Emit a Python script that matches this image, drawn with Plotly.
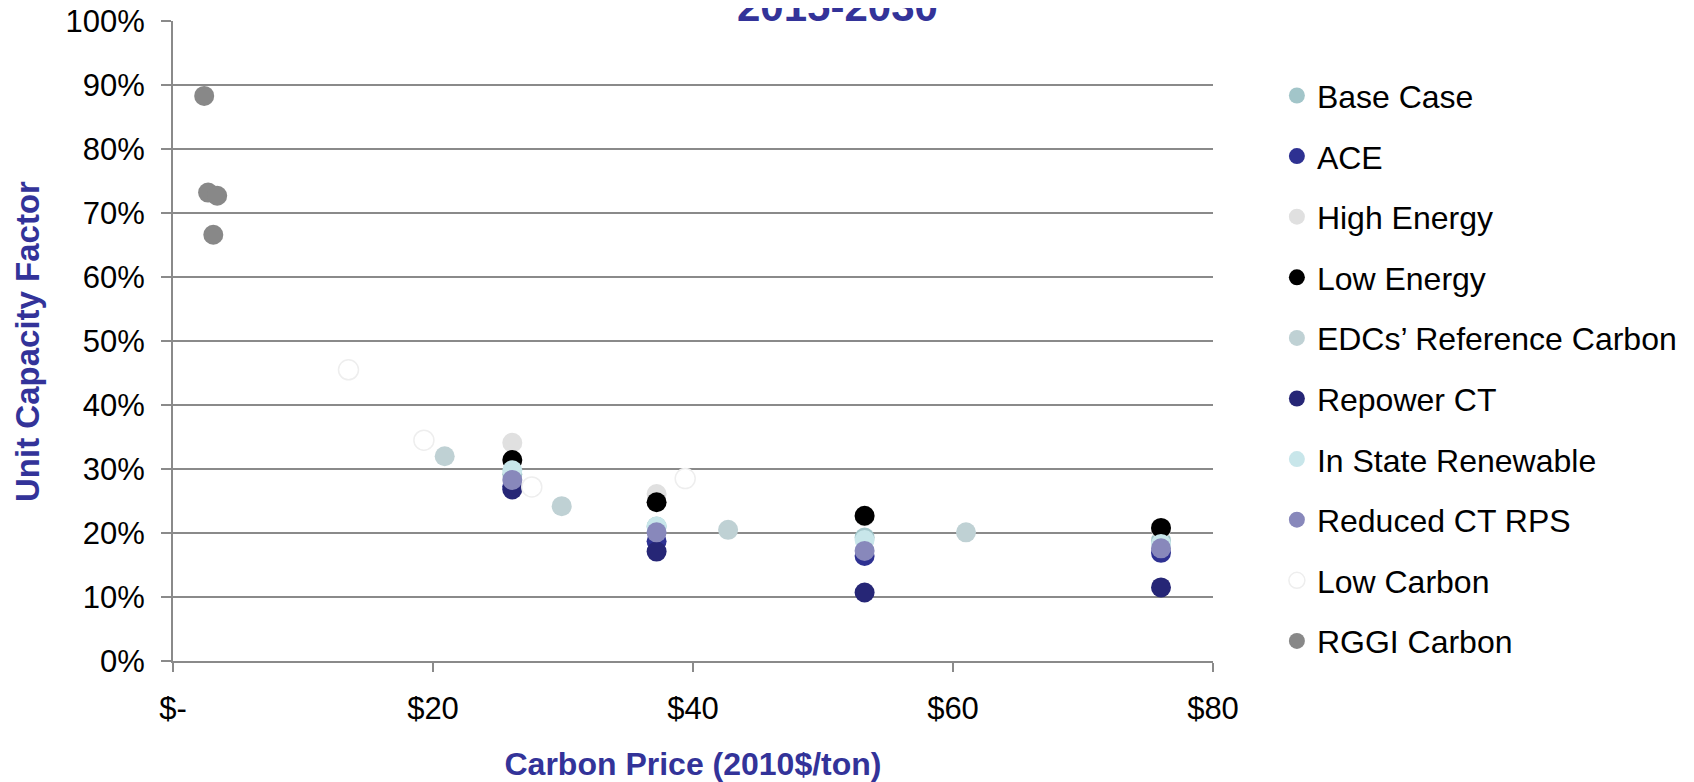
import plotly.graph_objects as go

# ---------------------------------------------------------------------------
# Data
# ---------------------------------------------------------------------------

BASE_PRICE = [26.1, 37.2, 53.2, 76.0]

base_case = [29.2, 21.0, 19.3, 18.8]
ace = [27.3, 18.7, 16.4, 16.9]
high_energy = [34.1, 26.1, 22.6, 20.6]
low_energy = [31.4, 24.8, 22.7, 20.8]
repower_ct = [26.8, 17.1, 10.7, 11.5]
in_state_renewable = [29.8, 21.0, 18.9, 18.3]
reduced_ct_rps = [28.3, 20.1, 17.2, 17.6]

edc_price = [20.9, 29.9, 42.7, 61.0]
edc_ref_carbon = [32.0, 24.2, 20.5, 20.1]

low_carbon_price = [13.5, 19.3, 27.6, 39.4]
low_carbon = [45.5, 34.5, 27.2, 28.5]

rggi_price = [2.4, 2.7, 3.4, 3.1]
rggi_carbon = [88.3, 73.2, 72.7, 66.6]

x_tickvals = [0, 20, 40, 60, 80]
x_ticktext = ["$-", "$20", "$40", "$60", "$80"]
y_tickvals = [i / 10 for i in range(11)]

BLUE = "#333399"
GRID = "#8a8a8a"
FONT = "Liberation Sans, Arial, sans-serif"

series = [
    ("Base Case", BASE_PRICE, base_case, "#a2c5c9", None),
    ("ACE", BASE_PRICE, ace, "#2e3192", None),
    ("High Energy", BASE_PRICE, high_energy, "#e0e0e0", None),
    ("Low Energy", BASE_PRICE, low_energy, "#000000", None),
    ("EDCs’ Reference Carbon", edc_price, edc_ref_carbon, "#bfd1d4", None),
    ("Repower CT", BASE_PRICE, repower_ct, "#262676", None),
    ("In State Renewable", BASE_PRICE, in_state_renewable, "#c8e6ea", None),
    ("Reduced CT RPS", BASE_PRICE, reduced_ct_rps, "#8888bb", None),
    ("Low Carbon", low_carbon_price, low_carbon, "#ffffff", "#eeeeee"),
    ("RGGI Carbon", rggi_price, rggi_carbon, "#888888", None),
]

fig = go.Figure()
for i, (name, xs, ys, color, outline) in enumerate(series):
    fig.add_trace(go.Scatter(
        x=xs,
        y=[v / 100 for v in ys],
        mode="markers",
        name=name,
        legendgroup=f"g{i}",
        marker=dict(
            size=20,
            color=color,
            line=dict(color=outline or color, width=1.5 if outline else 0),
        ),
        hovertemplate=name + "<br>%{x:$.1f}<br>%{y:.1%}<extra></extra>",
    ))

# the page body adds an 8px margin, so the figure is sized to the visible area
fig.update_layout(
    width=1686,
    height=774,
    margin=dict(t=13, b=121, l=165, r=481, autoexpand=False),
    paper_bgcolor="white",
    plot_bgcolor="white",
    font=dict(family=FONT, size=31, color="black"),
    showlegend=True,
    legend=dict(
        xref="container", yref="container",
        x=0.7526, y=0.9222,
        xanchor="left", yanchor="top",
        font=dict(size=32, color="black"),
        tracegroupgap=16,
        itemwidth=30,
        maxheight=760,
        bgcolor="rgba(0,0,0,0)",
    ),
    annotations=[
        dict(
            text="<b>2015-2030</b>",
            xref="paper", yref="paper",
            x=(837 - 173) / 1040, y=1 + 15 / 640,
            xanchor="center", yanchor="middle",
            showarrow=False,
            font=dict(size=42, color=BLUE, family=FONT),
        ),
        dict(
            text="<b>Unit Capacity Factor</b>",
            xref="paper", yref="paper",
            x=-0.1404, y=0.5,
            xanchor="center", yanchor="middle",
            textangle=-90,
            showarrow=False,
            font=dict(size=33, color=BLUE, family=FONT),
        ),
    ],
)

fig.update_xaxes(
    range=[0, 80],
    tickvals=x_tickvals,
    ticktext=x_ticktext,
    ticks="outside",
    ticklen=9,
    tickcolor=GRID,
    tickwidth=1.5,
    ticklabelstandoff=10,
    ticklabeloverflow="allow",
    showgrid=False,
    zeroline=False,
    showline=True,
    linecolor=GRID,
    linewidth=2,
    automargin=False,
    title=dict(text="<b>Carbon Price (2010$/ton)</b>",
               font=dict(size=32, color=BLUE), standoff=29),
)
fig.update_yaxes(
    range=[0, 1.0001],
    tickvals=y_tickvals,
    tickformat=".0%",
    ticks="outside",
    ticklen=10,
    tickcolor=GRID,
    tickwidth=1.5,
    ticklabelstandoff=10,
    ticklabeloverflow="allow",
    showgrid=True,
    gridcolor=GRID,
    gridwidth=2,
    zeroline=False,
    showline=True,
    linecolor=GRID,
    linewidth=2,
    automargin=False,
)

fig.write_html("out.html")
